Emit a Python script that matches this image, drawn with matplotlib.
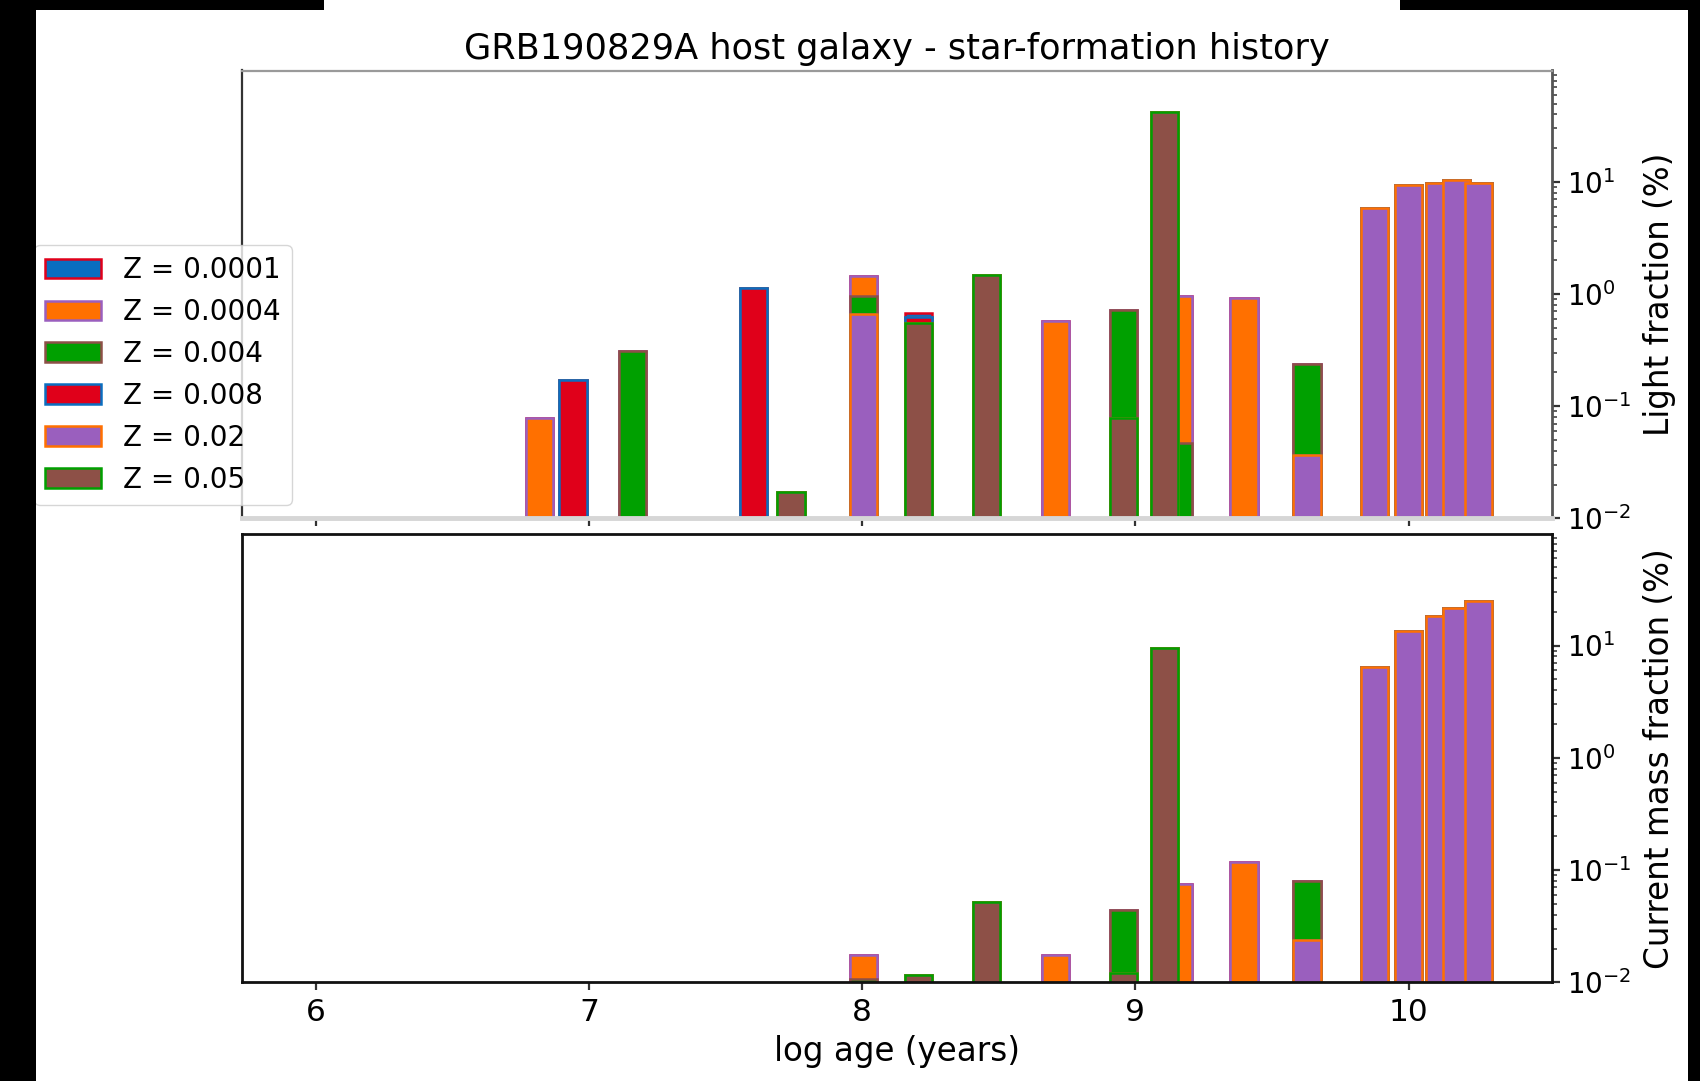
import numpy as np
import matplotlib
matplotlib.use("Agg")
import matplotlib.pyplot as plt
from matplotlib.patches import Rectangle

# Base ages (log10 years) of the stellar population models
log_age = [6.000, 6.500, 6.700, 6.820, 6.942, 7.000, 7.160, 7.400, 7.602, 7.740,
           8.006, 8.207, 8.456, 8.707, 8.956, 9.107, 9.157, 9.398, 9.628, 9.796,
           9.875, 10.000, 10.114, 10.176, 10.255]

metallicities = ["0.0001", "0.0004", "0.004", "0.008", "0.02", "0.05"]

# Light fraction (%) per metallicity and age
light_z00001 = [0, 0, 0, 0, 0, 0, 0, 0, 0, 0,
                0, 0.05, 0, 0, 0, 0, 0, 0, 0, 0,
                0, 0, 0, 0, 0]
light_z00004 = [0, 0, 0, 0.078, 0, 0, 0, 0, 0, 0,
                0.50, 0, 0, 0.57, 0, 0, 0.92, 0.92, 0, 0,
                0, 0, 0, 0, 0]
light_z0004 = [0, 0, 0, 0, 0, 0, 0.31, 0, 0, 0,
               0.30, 0, 0, 0, 0.64, 0, 0.047, 0, 0.20, 0,
               0, 0, 0, 0, 0]
light_z0008 = [0, 0, 0, 0, 0.17, 0, 0, 0, 1.13, 0,
               0, 0.08, 0, 0, 0, 0, 0, 0, 0, 0,
               0, 0, 0, 0, 0]
light_z002 = [0, 0, 0, 0, 0, 0, 0, 0, 0, 0,
              0.66, 0, 0, 0, 0, 0, 0, 0, 0.037, 0,
              5.8, 9.45, 9.75, 10.35, 9.75]
light_z005 = [0, 0, 0, 0, 0, 0, 0, 0, 0, 0.017,
              0, 0.55, 1.47, 0, 0.078, 42.0, 0, 0, 0, 0,
              0, 0, 0, 0, 0]

# Current mass fraction (%) per metallicity and age
mass_z00001 = [0] * 25
mass_z00004 = [0, 0, 0, 0, 0, 0, 0, 0, 0, 0,
               0.0068, 0, 0, 0.0175, 0, 0, 0.075, 0.117, 0, 0,
               0, 0, 0, 0, 0]
mass_z0004 = [0, 0, 0, 0, 0, 0, 0, 0, 0, 0,
              0.0108, 0, 0, 0, 0.032, 0, 0, 0, 0.056, 0,
              0, 0, 0, 0, 0]
mass_z0008 = [0] * 25
mass_z002 = [0, 0, 0, 0, 0, 0, 0, 0, 0, 0,
             0, 0, 0, 0, 0, 0, 0, 0, 0.024, 0,
             6.4, 13.6, 18.2, 21.8, 24.9]
mass_z005 = [0, 0, 0, 0, 0, 0, 0, 0, 0, 0,
             0, 0.0115, 0.052, 0, 0.012, 9.6, 0, 0, 0, 0,
             0, 0, 0, 0, 0]

light = [light_z00001, light_z00004, light_z0004, light_z0008, light_z002, light_z005]
mass = [mass_z00001, mass_z00004, mass_z0004, mass_z0008, mass_z002, mass_z005]

face = ["#0a6ec0", "#ff7000", "#00a000", "#e0001a", "#9a5fbe", "#8d5047"]

W, H = 1700, 1081
fig = plt.figure(figsize=(W / 100, H / 100), dpi=100)

left = 242 / W
width = (1552 - 242) / W
ax_top = fig.add_axes([left, 1 - 518.3 / H, width, (518.3 - 70.5) / H])
ax_bot = fig.add_axes([left, 1 - 982.3 / H, width, (982.3 - 534) / H])


def draw_sfh(ax, fractions):
    """Cumulative bars: each metallicity drawn over the sum of the richer ones."""
    data = np.array(fractions, dtype=float)
    ax.set_yscale("log")
    for i, z in enumerate(metallicities):
        heights = data[i:].sum(axis=0)
        ax.bar(log_age, heights, width=0.1, color=face[i],
               edgecolor=face[(i + 3) % 6], linewidth=1.8,
               label=f"Z = {z}")
    ax.set_ylim(0.01, 98.5)
    ax.set_xlim(5.73, 10.525)
    ax.set_xticks([6, 7, 8, 9, 10])
    ax.yaxis.tick_right()
    ax.yaxis.set_label_position("right")
    ax.tick_params(which="major", length=6, width=1.6, color="#333333",
                   labelsize=20, pad=5)
    ax.tick_params(which="minor", length=3.5, width=1.2, color="#444444")
    ax.tick_params(axis="x", labelsize=22.5)


draw_sfh(ax_top, light)
draw_sfh(ax_bot, mass)

ax_top.tick_params(axis="x", labelbottom=False)
ax_top.set_ylabel("Light fraction (%)", fontsize=23.5, labelpad=8)
ax_bot.set_ylabel("Current mass fraction (%)", fontsize=23.5, labelpad=8)
ax_bot.set_xlabel("log age (years)", fontsize=23.5, labelpad=6)
ax_top.set_title("GRB190829A host galaxy - star-formation history",
                 fontsize=25.3, pad=8)

for name, col, lw in [("top", "#9a9a9a", 1.6), ("left", "#333333", 1.6),
                      ("right", "#555555", 2.0), ("bottom", "#d6d6d6", 3.5)]:
    ax_top.spines[name].set_color(col)
    ax_top.spines[name].set_linewidth(lw)
for sp in ax_bot.spines.values():
    sp.set_color("#111111")
    sp.set_linewidth(2.0)

ax_top.legend(loc="upper left", bbox_to_anchor=(34 / W, 1 - 245 / H),
              bbox_transform=fig.transFigure, borderaxespad=0,
              fontsize=20, labelspacing=0.5, handlelength=2.0,
              handleheight=0.7, framealpha=0.8)

# dark border regions around the figure
for x0, y0, w, h in [(0, 0, 36, H), (1688, 0, 12, H),
                     (0, H - 9.6, 324, 9.6), (1400, H - 9.6, 300, 9.6)]:
    fig.add_artist(Rectangle((x0 / W, y0 / H), w / W, h / H,
                             transform=fig.transFigure, facecolor="black",
                             edgecolor="none", zorder=100))

fig.savefig("out.png", dpi=100)
